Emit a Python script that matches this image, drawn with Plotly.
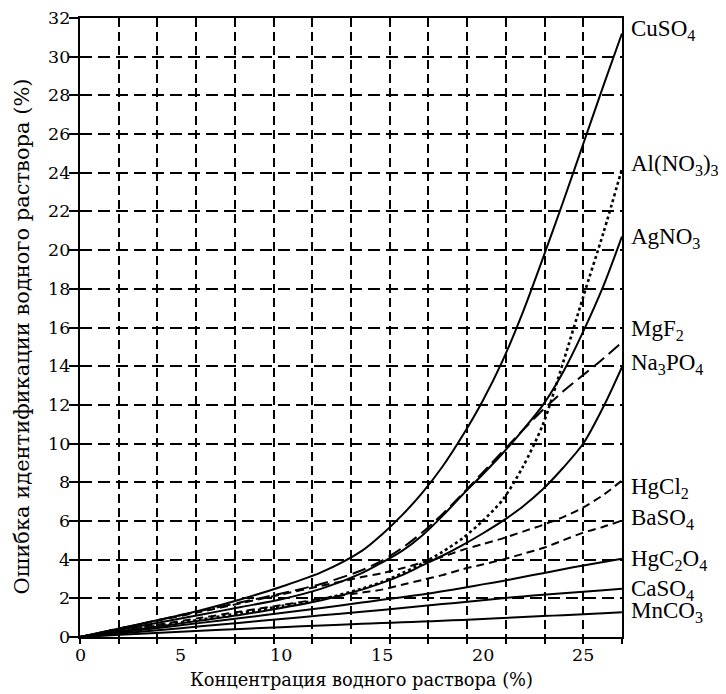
import plotly.graph_objects as go

# Concentration of the aqueous solution (%)
conc = [0, 2, 4, 6, 8, 10, 12, 14, 15, 16, 17, 18, 19, 20, 21, 22, 23, 24, 25, 26, 26.92]

cuso4 = [0, 0.45, 0.9, 1.38, 1.95, 2.6, 3.35, 4.45, 5.3, 6.3, 7.45, 8.8, 10.4, 12.2, 14.3, 16.8, 19.6, 22.5, 25.5, 28.5, 31.2]
al_no3 = [0, 0.3, 0.6, 0.9, 1.25, 1.6, 1.95, 2.5, 2.85, 3.3, 3.8, 4.4, 5.1, 6.0, 7.1, 8.8, 11.0, 14.2, 17.6, 20.9, 24.2]
agno3 = [0, 0.38, 0.76, 1.15, 1.55, 1.95, 2.5, 3.3, 3.85, 4.45, 5.25, 6.25, 7.35, 8.4, 9.5, 10.7, 12.0, 13.7, 15.8, 18.15, 20.7]
mgf2 = [0, 0.45, 0.9, 1.35, 1.8, 2.25, 2.75, 3.45, 3.95, 4.6, 5.4, 6.35, 7.4, 8.5, 9.6, 10.7, 11.75, 12.7, 13.55, 14.4, 15.24]
na3po4 = [0, 0.28, 0.56, 0.85, 1.15, 1.5, 1.9, 2.45, 2.8, 3.2, 3.7, 4.2, 4.75, 5.35, 6.0, 6.75, 7.65, 8.75, 10.0, 11.9, 13.95]
hgcl2 = [0, 0.44, 0.88, 1.3, 1.75, 2.2, 2.65, 3.1, 3.3, 3.55, 3.85, 4.15, 4.5, 4.8, 5.1, 5.45, 5.8, 6.2, 6.7, 7.35, 8.09]
baso4 = [0, 0.33, 0.66, 0.99, 1.32, 1.65, 1.98, 2.3, 2.45, 2.7, 2.95, 3.2, 3.5, 3.75, 4.0, 4.3, 4.6, 5.0, 5.4, 5.7, 6.02]
hgc2o4 = [0, 0.24, 0.48, 0.73, 0.98, 1.24, 1.5, 1.78, 1.92, 2.06, 2.2, 2.36, 2.53, 2.72, 2.9, 3.1, 3.3, 3.5, 3.7, 3.88, 4.04]
caso4 = [0, 0.18, 0.36, 0.55, 0.74, 0.93, 1.12, 1.3, 1.4, 1.5, 1.6, 1.7, 1.8, 1.9, 2.0, 2.1, 2.18, 2.26, 2.34, 2.42, 2.49]
mnco3 = [0, 0.11, 0.22, 0.32, 0.42, 0.51, 0.6, 0.68, 0.72, 0.76, 0.8, 0.84, 0.88, 0.93, 0.98, 1.03, 1.08, 1.13, 1.18, 1.23, 1.28]

series_names = ["CuSO4", "Al(NO3)3", "AgNO3", "MgF2", "Na3PO4", "HgCl2", "BaSO4", "HgC2O4", "CaSO4", "MnCO3"]
series_values = [cuso4, al_no3, agno3, mgf2, na3po4, hgcl2, baso4, hgc2o4, caso4, mnco3]
series_dash = ["solid", "dot", "solid", "14px,6px", "solid", "8px,5px", "8px,5px", "solid", "solid", "solid"]
series_width = [2, 2.6, 2, 2, 2, 2, 2, 2, 2, 2]

label_texts = ["CuSO<sub>4</sub>", "Al(NO<sub>3</sub>)<sub>3</sub>", "AgNO<sub>3</sub>", "MgF<sub>2</sub>",
               "Na<sub>3</sub>PO<sub>4</sub>", "HgCl<sub>2</sub>", "BaSO<sub>4</sub>",
               "HgC<sub>2</sub>O<sub>4</sub>", "CaSO<sub>4</sub>", "MnCO<sub>3</sub>"]
label_y = [31.4, 24.4, 20.65, 15.85, 14.1, 7.7, 6.1, 4.0, 2.45, 1.27]

x_tick_vals = [0, 5, 10, 15, 20, 25]
y_tick_vals = list(range(0, 33, 2))

x_title = "Концентрация водного раствора (%)"
y_title = "Ошибка идентификации водного раствора (%)"

X_MAX = 14 * 25 / 13   # 14 grid cells, 25 falls on the 13th
GRID_STEP = 25 / 13

FONT = "Liberation Serif"      # Latin labels
FONT2 = "DejaVu Serif"         # digits and Cyrillic

fig = go.Figure()
for name, vals, dash, w in zip(series_names, series_values, series_dash, series_width):
    fig.add_trace(go.Scatter(
        x=conc, y=vals, mode="lines", name=name,
        line=dict(color="black", width=w, dash=dash, shape="spline", smoothing=0.8),
        showlegend=False, hoverinfo="skip"))

# series labels at the right edge
for txt, yv in zip(label_texts, label_y):
    fig.add_annotation(x=1, xref="paper", y=yv, yref="y", text=txt, showarrow=False,
                       xanchor="left", yanchor="middle", xshift=7,
                       font=dict(family=FONT, size=23, color="black"))

# tick labels
for v in x_tick_vals:
    fig.add_annotation(x=v, xref="x", y=0, yref="paper", text=str(v), showarrow=False,
                       xanchor="center", yanchor="middle", yshift=-17.5,
                       font=dict(family=FONT2, size=17.5, color="black"))
for v in y_tick_vals:
    fig.add_annotation(x=0, xref="paper", y=v, yref="y", text=str(v), showarrow=False,
                       xanchor="right", yanchor="middle", xshift=-8,
                       font=dict(family=FONT2, size=17.5, color="black"))

# axis titles
fig.add_annotation(x=0.5, xref="paper", y=0, yref="paper", text=x_title, showarrow=False,
                   xanchor="center", yanchor="middle", xshift=10, yshift=-42,
                   font=dict(family=FONT2, size=17.8, color="black"))
fig.add_annotation(x=0, xref="paper", y=0.5, yref="paper", text=y_title, showarrow=False,
                   textangle=-90, xanchor="center", yanchor="middle", xshift=-59, yshift=-9,
                   font=dict(family=FONT2, size=21, color="black"))

fig.update_layout(
    template="none",
    width=718, height=686,
    margin=dict(l=72, r=104, t=10, b=57, autoexpand=False),
    paper_bgcolor="white", plot_bgcolor="white",
    font=dict(family=FONT2, size=18, color="black"),
    xaxis=dict(
        range=[0, X_MAX], tick0=0, dtick=GRID_STEP, tickmode="linear",
        showticklabels=False, showgrid=True, gridcolor="black", gridwidth=1.6,
        griddash="9px,5px", ticks="outside", ticklen=5, tickcolor="black", tickwidth=1.5,
        showline=True, linecolor="black", linewidth=2, mirror=True, zeroline=False,
        automargin=False,
    ),
    yaxis=dict(
        range=[0, 32], tickmode="array", tickvals=y_tick_vals, showticklabels=False,
        showgrid=True, gridcolor="black", gridwidth=1.6, griddash="12px,6px",
        ticks="outside", ticklen=9, tickcolor="black", tickwidth=1.5, automargin=False,
        showline=True, linecolor="black", linewidth=2, mirror=True, zeroline=False,
    ),
)

fig.write_html("out.html")
